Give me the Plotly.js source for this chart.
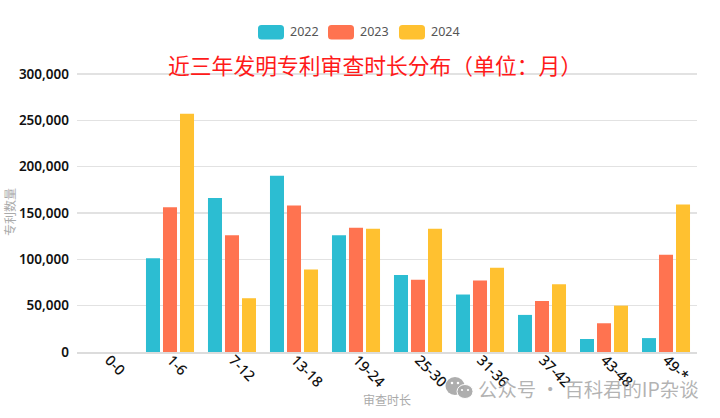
<!DOCTYPE html>
<html><head><meta charset="utf-8">
<script src="https://cdn.plot.ly/plotly-3.0.1.min.js"></script>
<style>html,body{margin:0;padding:0;background:#fff}#c{width:720px;height:418px}</style></head>
<body><div id="c"></div>
<script>
const categories=['0-0','1-6','7-12','13-18','19-24','25-30','31-36','37-42','43-48','49-*'];
const years=['2022','2023','2024'];
const colors=['#2cbdd2','#ff7350','#ffc130'];
const v2022=[0,101000,166000,190000,126000,83000,62000,40000,14000,15000];
const v2023=[0,156000,126000,158000,134000,78000,77000,55000,31000,105000];
const v2024=[0,257000,58000,89000,133000,133000,91000,73000,50000,159000];
const series=[v2022,v2023,v2024];
const W=720,H=418,L=77,R=23,T=72,B=66,cjk='"Noto Sans CJK SC","Noto Sans",sans-serif';
const px=x=>(x-L)/(W-L-R), py=y=>(H-B-y)/(H-T-B);
function rr(x0,y0,x1,y1,r){const X=a=>px(a).toFixed(5),Y=a=>py(a).toFixed(5);
 return `M${X(x0+r)},${Y(y0)} L${X(x1-r)},${Y(y0)} Q${X(x1)},${Y(y0)} ${X(x1)},${Y(y0+r)} L${X(x1)},${Y(y1-r)} Q${X(x1)},${Y(y1)} ${X(x1-r)},${Y(y1)} L${X(x0+r)},${Y(y1)} Q${X(x0)},${Y(y1)} ${X(x0)},${Y(y1-r)} L${X(x0)},${Y(y0+r)} Q${X(x0)},${Y(y0)} ${X(x0+r)},${Y(y0)} Z`;}
const swatchX=[258,328,399];
const shapes=swatchX.map((x,i)=>({type:'path',xref:'paper',yref:'paper',path:rr(x,25,x+26,39.5,3.5),fillcolor:colors[i],line:{width:0}}));
const annotations=swatchX.map((x,i)=>({xref:'paper',yref:'paper',x:px(x+30),y:py(31.5),xanchor:'left',yanchor:'middle',showarrow:false,text:years[i],font:{family:'"Noto Sans",sans-serif',size:12.5,color:'#555'}}));
annotations.push({xref:'paper',yref:'paper',x:px(374.5),y:py(64.5),xanchor:'center',yanchor:'middle',showarrow:false,text:'近三年发明专利审查时长分布（单位：月）',font:{family:cjk,size:21.8,color:'#ff1a1a'}});
annotations.push({xref:'paper',yref:'paper',x:px(475.5),y:py(388),xanchor:'left',yanchor:'middle',showarrow:false,text:'公众号 · 百科君的IP杂谈',font:{family:cjk,size:19.4,color:'rgba(150,150,150,0.72)'}});
const wm='rgba(170,170,170,0.95)';
const blobs=[[455,386,9.5,9,wm],[465,391.5,8,7,wm],[452,383,1.3,1.3,'#fff'],[458,383,1.3,1.3,'#fff'],[462,390,1.1,1.1,'#fff'],[468,390,1.1,1.1,'#fff']];
blobs.forEach((e,i)=>shapes.push({type:'circle',xref:'paper',yref:'paper',x0:px(e[0]-e[2]),x1:px(e[0]+e[2]),y0:py(e[1]+e[3]),y1:py(e[1]-e[3]),fillcolor:e[4],line:{width:i===1?1:0,color:'#fff'}}));
const data=series.map((s,i)=>({type:'bar',name:years[i],x:categories,y:s,marker:{color:colors[i]},hoverinfo:'x+y'}));
const layout={width:W,height:H,margin:{l:L,r:R,t:T,b:B},paper_bgcolor:'#fff',plot_bgcolor:'#fff',showlegend:false,
 barmode:'group',bargap:0.177,bargroupgap:0.176,shapes,annotations,
 xaxis:{type:'category',categoryorder:'array',categoryarray:categories,tickangle:45,ticks:'',showgrid:false,showline:true,linecolor:'#dcdcdc',linewidth:2,zeroline:false,ticklabelstandoff:-8,ticklabelshift:1,
  tickfont:{family:'"Noto Sans",sans-serif',size:14.5,color:'#111',weight:500},title:{text:'审查时长',standoff:3,font:{family:cjk,size:12,color:'#aaa'}}},
 yaxis:{range:[0,302000],tickvals:[0,50000,100000,150000,200000,250000,300000],tickformat:',d',gridcolor:'#e2e2e2',gridwidth:1.3,zeroline:false,ticks:'',ticklabelstandoff:7,
  tickfont:{family:'"Noto Sans",sans-serif',size:13.5,color:'#111',weight:600},title:{text:'专利数量',standoff:0,font:{family:cjk,size:12,color:'#aaa'}}}};
Plotly.newPlot('c',data,layout,{displayModeBar:false,staticPlot:true});
</script></body></html>
